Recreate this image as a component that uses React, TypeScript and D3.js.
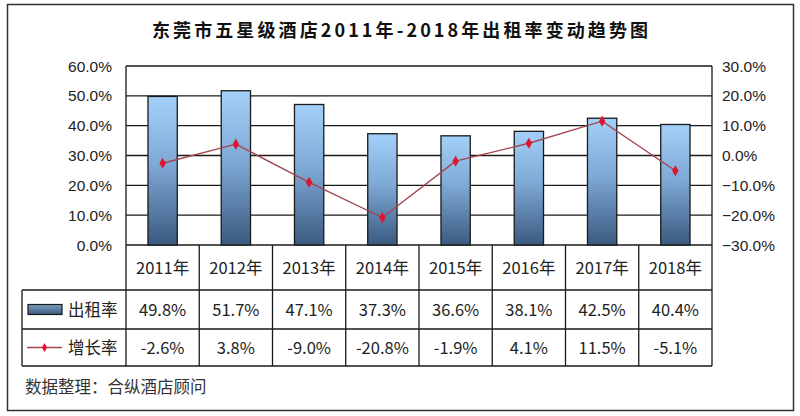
import * as d3 from "d3";

const years = ["2011年", "2012年", "2013年", "2014年", "2015年", "2016年", "2017年", "2018年"];
const occupancy = [49.8, 51.7, 47.1, 37.3, 36.6, 38.1, 42.5, 40.4];
const growth = [-2.6, 3.8, -9.0, -20.8, -1.9, 4.1, 11.5, -5.1];
const leftTicks = [0, 10, 20, 30, 40, 50, 60];
const rightTicks = [-30, -20, -10, 0, 10, 20, 30];

const W = 800;
const H = 416;
const plot = { left: 126, right: 712, top: 66, bottom: 245 };
const rowBottoms = [290, 329, 366];
const CJK = "'Noto Sans CJK SC', 'Liberation Sans', sans-serif";
const NUM = "'Liberation Sans', Arial, sans-serif";

export default function App() {
  const x = d3.scaleBand<string>().domain(years).range([plot.left, plot.right]);
  const y = d3.scaleLinear().domain([0, 60]).range([plot.bottom, plot.top]);
  const y2 = d3.scaleLinear().domain([-30, 30]).range([plot.bottom, plot.top]);
  const barW = x.bandwidth() * 0.4;

  const line = d3
    .line<number>()
    .x((_, i) => x(years[i])! + x.bandwidth() / 2)
    .y((d) => y2(d));

  const diamond = d3.symbol().type(d3.symbolDiamond).size(36)()!;
  const smallDiamond = d3.symbol().type(d3.symbolDiamond).size(24)()!;

  const cellCenter = (i: number) => x(years[i])! + x.bandwidth() / 2;
  const rowMid = (r: number) => ((r === 0 ? plot.bottom : rowBottoms[r - 1]) + rowBottoms[r]) / 2;

  return (
    <svg
      width={W}
      height={H}
      style={{ position: "absolute", left: 0, top: 0, background: "#fff" }}
    >
      <defs>
        <linearGradient id="barGrad" x1="0" y1="0" x2="0" y2="1">
          <stop offset="0%" stopColor="#a3d0f8" />
          <stop offset="45%" stopColor="#7fa9d6" />
          <stop offset="100%" stopColor="#3a5a80" />
        </linearGradient>
        <linearGradient id="legGrad" x1="0" y1="0" x2="0" y2="1">
          <stop offset="0%" stopColor="#7d9cc0" />
          <stop offset="100%" stopColor="#3a5a80" />
        </linearGradient>
      </defs>

      <rect x={7.5} y={4.5} width={786} height={406} fill="#fff" stroke="#333" strokeWidth={1.5} />

      <text
        x={152}
        y={37}
        textLength={496}
        lengthAdjust="spacing"
        fontFamily={CJK}
        fontWeight="bold"
        fontSize={18}
        fill="#111"
      >
        东莞市五星级酒店2011年-2018年出租率变动趋势图
      </text>

      {/* gridlines */}
      {leftTicks.map((t) => (
        <line key={t} x1={plot.left} x2={plot.right} y1={y(t)} y2={y(t)} stroke="#1a1a1a" strokeWidth={1.3} />
      ))}

      {/* bars */}
      {occupancy.map((v, i) => (
        <rect
          key={years[i]}
          x={cellCenter(i) - barW / 2}
          y={y(v)}
          width={barW}
          height={plot.bottom - y(v)}
          fill="url(#barGrad)"
          stroke="#1a1a1a"
          strokeWidth={1.3}
        />
      ))}

      {/* growth line */}
      <path d={line(growth)!} fill="none" stroke="#a3454f" strokeWidth={1.4} />
      {growth.map((v, i) => (
        <path key={i} d={diamond} transform={`translate(${cellCenter(i)},${y2(v)})`} fill="#e3132e" />
      ))}

      {/* plot frame */}
      <line x1={plot.left} x2={plot.left} y1={plot.top} y2={rowBottoms[2]} stroke="#1a1a1a" strokeWidth={1.3} />
      <line x1={plot.right} x2={plot.right} y1={plot.top} y2={rowBottoms[2]} stroke="#1a1a1a" strokeWidth={1.3} />

      {/* axis labels */}
      {leftTicks.map((t) => (
        <text key={t} x={112} y={y(t) + 5.5} textAnchor="end" fontFamily={NUM} fontSize={15.5} fill="#222">
          {d3.format(".1f")(t)}%
        </text>
      ))}
      {rightTicks.map((t) => (
        <text key={t} x={722} y={y2(t) + 5.5} textAnchor="start" fontFamily={NUM} fontSize={15.5} fill="#222">
          {d3.format(".1f")(t)}%
        </text>
      ))}

      {/* data table */}
      {rowBottoms.map((rb) => (
        <line key={rb} x1={22} x2={plot.right} y1={rb} y2={rb} stroke="#1a1a1a" strokeWidth={1.3} />
      ))}
      <line x1={22} x2={22} y1={rowBottoms[0]} y2={rowBottoms[2]} stroke="#1a1a1a" strokeWidth={1.3} />
      {years.slice(1).map((yr) => (
        <line key={yr} x1={x(yr)!} x2={x(yr)!} y1={plot.bottom} y2={rowBottoms[2]} stroke="#1a1a1a" strokeWidth={1.3} />
      ))}

      {years.map((yr, i) => (
        <text key={yr} x={cellCenter(i)} y={rowMid(0) + 6.5} textAnchor="middle" fontFamily={CJK} fontSize={16.5} fill="#222">
          {yr}
        </text>
      ))}
      {occupancy.map((v, i) => (
        <text key={i} x={cellCenter(i)} y={rowMid(1) + 6.5} textAnchor="middle" fontFamily={CJK} fontSize={16.5} fill="#222">
          {v.toFixed(1)}%
        </text>
      ))}
      {growth.map((v, i) => (
        <text key={i} x={cellCenter(i)} y={rowMid(2) + 6.5} textAnchor="middle" fontFamily={CJK} fontSize={16.5} fill="#222">
          {v.toFixed(1)}%
        </text>
      ))}

      {/* legend keys */}
      <rect x={28} y={rowMid(1) - 5} width={34} height={10} fill="url(#legGrad)" stroke="#1a1a1a" strokeWidth={1.2} />
      <text x={68} y={rowMid(1) + 6.5} fontFamily={CJK} fontSize={16.5} fill="#222">出租率</text>
      <line x1={27} x2={62} y1={rowMid(2)} y2={rowMid(2)} stroke="#a3454f" strokeWidth={1.4} />
      <path d={smallDiamond} transform={`translate(44.5,${rowMid(2)})`} fill="#e3132e" />
      <text x={68} y={rowMid(2) + 6.5} fontFamily={CJK} fontSize={16.5} fill="#222">增长率</text>

      <text x={25} y={393} fontFamily={CJK} fontSize={16.5} fill="#333">
        数据整理：合纵酒店顾问
      </text>
    </svg>
  );
}
